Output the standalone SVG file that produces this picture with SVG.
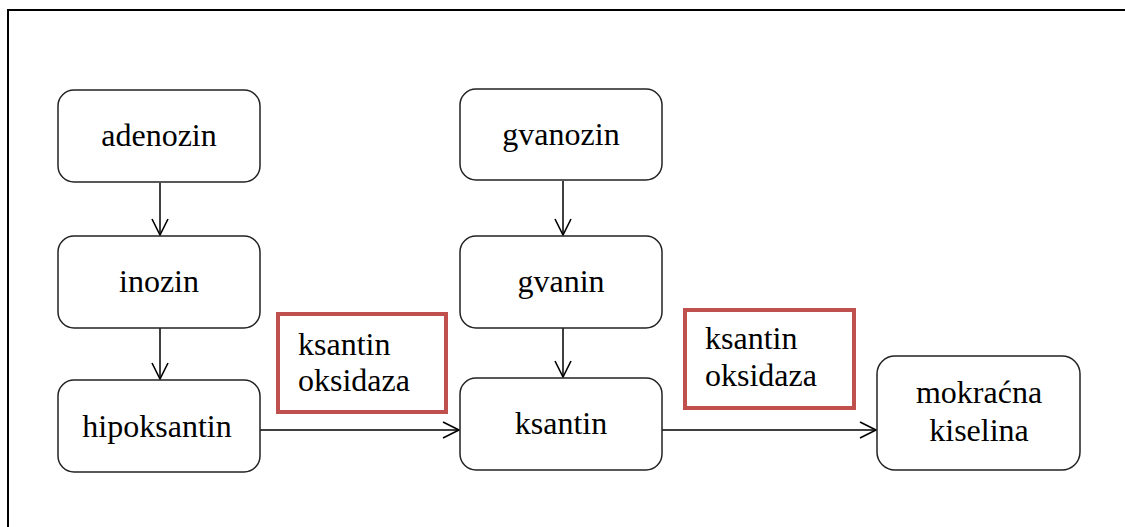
<svg xmlns="http://www.w3.org/2000/svg" width="1125" height="527" viewBox="0 0 1125 527">
<defs>
<marker id="arr" viewBox="0 0 20 20" refX="18" refY="10" markerWidth="20" markerHeight="20" markerUnits="userSpaceOnUse" orient="auto">
<path d="M2,2 L18,10 L2,18" fill="none" stroke="#000" stroke-width="1.6"/>
</marker>
<style>
.n{fill:#fff;stroke:#222;stroke-width:1.5}
.r{fill:#fff;stroke:#c0504d;stroke-width:4}
.c{stroke:#000;stroke-width:1.5;fill:none}
</style>
</defs>
<rect width="1125" height="527" fill="#fff"/>
<path d="M8,527 L8,10 L1125,10" fill="none" stroke="#000" stroke-width="2"/>
<g id="connectors">
<line class="c" x1="160" y1="183" x2="160" y2="235" marker-end="url(#arr)"/>
<line class="c" x1="160" y1="328" x2="160" y2="379" marker-end="url(#arr)"/>
<line class="c" x1="563" y1="181" x2="563" y2="235" marker-end="url(#arr)"/>
<line class="c" x1="563" y1="328" x2="563" y2="377" marker-end="url(#arr)"/>
<line class="c" x1="260" y1="430" x2="459" y2="430" marker-end="url(#arr)"/>
<line class="c" x1="662" y1="430" x2="876" y2="430" marker-end="url(#arr)"/>
</g>
<g font-family="'Liberation Serif', 'Times New Roman', serif" font-size="32" fill="#000">
<g id="adenozin"><rect class="n" x="58" y="90" width="202" height="92" rx="16"/><text x="159" y="146" text-anchor="middle">adenozin</text></g>
<g id="inozin"><rect class="n" x="58" y="236" width="202" height="92" rx="16"/><text x="159" y="292" text-anchor="middle">inozin</text></g>
<g id="hipoksantin"><rect class="n" x="58" y="380" width="202" height="92" rx="16"/><text x="157" y="437" text-anchor="middle">hipoksantin</text></g>
<g id="gvanozin"><rect class="n" x="460" y="89" width="202" height="91" rx="16"/><text x="561" y="145" text-anchor="middle">gvanozin</text></g>
<g id="gvanin"><rect class="n" x="460" y="236" width="202" height="92" rx="16"/><text x="561" y="292" text-anchor="middle">gvanin</text></g>
<g id="ksantin"><rect class="n" x="460" y="378" width="202" height="92" rx="16"/><text x="561" y="434" text-anchor="middle">ksantin</text></g>
<g id="mokracna"><rect class="n" x="877" y="356" width="203" height="114" rx="18"/><text x="979" y="403" text-anchor="middle">mokraćna</text><text x="979" y="441" text-anchor="middle">kiselina</text></g>
<g id="enzim1"><rect class="r" x="278" y="314" width="168" height="98"/><text x="298" y="355">ksantin</text><text x="298" y="391">oksidaza</text></g>
<g id="enzim2"><rect class="r" x="685" y="310" width="169" height="98"/><text x="705" y="349">ksantin</text><text x="705" y="386">oksidaza</text></g>
</g>
</svg>
